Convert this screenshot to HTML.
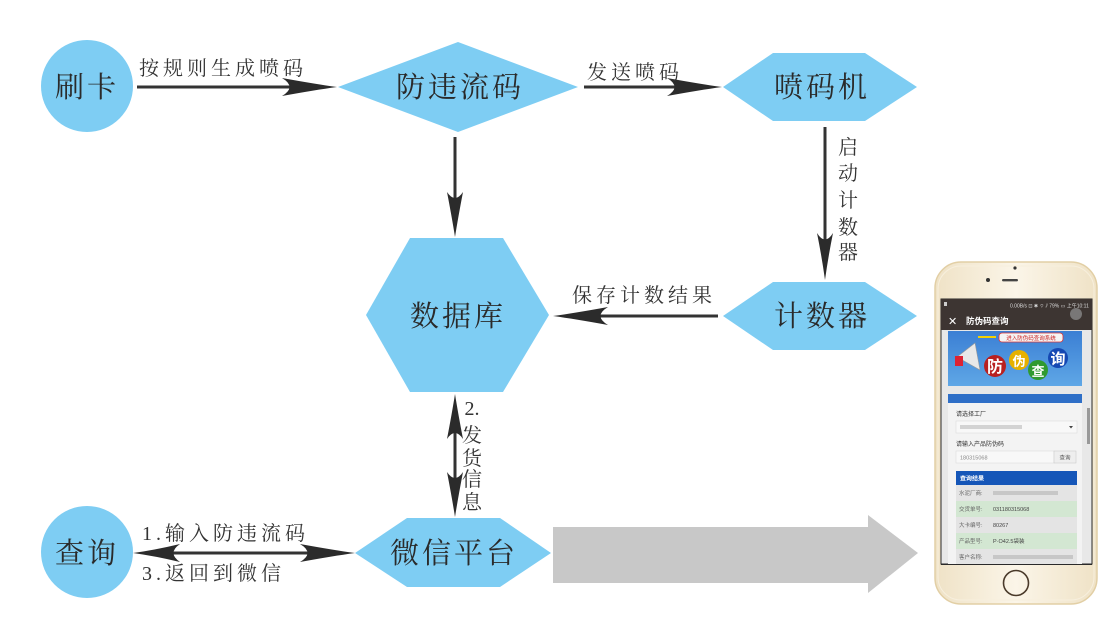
<!DOCTYPE html>
<html><head><meta charset="utf-8">
<style>
html,body{margin:0;padding:0;background:#fff;}
svg{display:block;}
.n{font-family:"Liberation Serif","Noto Serif CJK SC",serif;font-size:29px;fill:#2a2a2a;letter-spacing:3px;}
.l{font-family:"Liberation Serif","Noto Serif CJK SC",serif;font-size:20px;fill:#333;letter-spacing:4px;}
.v{font-family:"Liberation Serif","Noto Serif CJK SC",serif;font-size:20px;fill:#333;}
.p{font-family:"Liberation Sans","Noto Sans CJK SC",sans-serif;}
</style></head>
<body>
<svg width="1114" height="643" viewBox="0 0 1114 643" xmlns="http://www.w3.org/2000/svg">
<defs>
<linearGradient id="bn" x1="0" y1="0" x2="0" y2="1">
<stop offset="0" stop-color="#3b7fd4"/><stop offset="1" stop-color="#5fa7e6"/>
</linearGradient>
<linearGradient id="ph" x1="0" y1="0" x2="1" y2="0">
<stop offset="0" stop-color="#efe2c6"/><stop offset="0.5" stop-color="#fbf5e8"/><stop offset="1" stop-color="#efe2c6"/>
</linearGradient>
</defs>

<!-- Nodes -->
<circle cx="87" cy="86" r="46" fill="#7ecdf3"/>
<text class="n" x="87" y="97" text-anchor="middle">刷卡</text>

<polygon points="338,87 458,42 578,87 458,132" fill="#7ecdf3"/>
<text class="n" x="460" y="97" text-anchor="middle">防违流码</text>

<polygon points="723,87 773,53 865,53 917,87 865,121 773,121" fill="#7ecdf3"/>
<text class="n" x="822" y="97" text-anchor="middle">喷码机</text>

<polygon points="723,316 773,282 865,282 917,316 865,350 773,350" fill="#7ecdf3"/>
<text class="n" x="822" y="326" text-anchor="middle">计数器</text>

<polygon points="366,315 410,238 503,238 549,315 503,392 410,392" fill="#7ecdf3"/>
<text class="n" x="458" y="326" text-anchor="middle">数据库</text>

<circle cx="87" cy="552" r="46" fill="#7ecdf3"/>
<text class="n" x="87" y="563" text-anchor="middle">查询</text>

<polygon points="355,553 407,518 500,518 551,553 500,587 407,587" fill="#7ecdf3"/>
<text class="n" x="454" y="563" text-anchor="middle">微信平台</text>

<!-- Gray big arrow -->
<polygon points="553,527 868,527 868,515 918,553 868,593 868,583 553,583" fill="#c8c8c8"/>

<!-- Connectors -->
<g stroke="#333" stroke-width="3" fill="none">
<line x1="137" y1="87" x2="318" y2="87"/>
<line x1="584" y1="87" x2="705" y2="87"/>
<line x1="718" y1="316" x2="570" y2="316"/>
<line x1="150" y1="553" x2="340" y2="553"/>
<line x1="455" y1="137" x2="455" y2="222"/>
<line x1="825" y1="127" x2="825" y2="265"/>
<line x1="455" y1="410" x2="455" y2="502"/>
</g>
<g fill="#2b2b2b">
<!-- right heads -->
<path d="M337 87 Q315 84 282 78 Q297 87 282 96 Q315 90 337 87 Z"/>
<path d="M722 87 Q700 84 667 78 Q682 87 667 96 Q700 90 722 87 Z"/>
<path d="M355 553 Q333 550 300 544 Q315 553 300 562 Q333 556 355 553 Z"/>
<!-- left heads -->
<path d="M553 316 Q575 313 608 307 Q593 316 608 325 Q575 319 553 316 Z"/>
<path d="M133 553 Q155 550 180 544 Q167 553 180 562 Q155 556 133 553 Z"/>
<!-- down heads -->
<path d="M455 237 Q452 218 447 192 Q455 204 463 192 Q458 218 455 237 Z"/>
<path d="M825 280 Q822 258 817 233 Q825 246 833 233 Q828 258 825 280 Z"/>
<path d="M455 517 Q452 498 447 472 Q455 484 463 472 Q458 498 455 517 Z"/>
<!-- up head -->
<path d="M455 394 Q452 413 447 439 Q455 427 463 439 Q458 413 455 394 Z"/>
</g>

<!-- Edge labels -->
<text class="l" x="139" y="75">按规则生成喷码</text>
<text class="l" x="587" y="79">发送喷码</text>
<text class="l" x="572" y="302">保存计数结果</text>
<text class="l" x="142" y="540">1.输入防违流码</text>
<text class="l" x="142" y="580">3.返回到微信</text>
<g class="v" text-anchor="middle">
<text x="848" y="154">启</text>
<text x="848" y="180">动</text>
<text x="848" y="207">计</text>
<text x="848" y="234">数</text>
<text x="848" y="259">器</text>
<text x="472" y="415">2.</text>
<text x="472" y="442">发</text>
<text x="472" y="465">货</text>
<text x="472" y="486">信</text>
<text x="472" y="509">息</text>
</g>

<!-- Phone -->
<rect x="935" y="262" width="162" height="342" rx="26" fill="url(#ph)" stroke="#e2cfa5" stroke-width="1.5"/>
<rect x="938" y="266" width="156" height="334" rx="23" fill="none" stroke="#f7efdd" stroke-width="1"/>
<circle cx="1015" cy="268" r="1.6" fill="#333"/>
<circle cx="988" cy="280" r="2" fill="#333"/>
<rect x="1002" y="279" width="16" height="2.4" rx="1.2" fill="#444"/>
<rect x="941" y="299" width="151" height="265" fill="#e8e8e8" stroke="#2a2a2a" stroke-width="1"/>
<rect x="941" y="299" width="151" height="31" fill="#3d3532"/>
<text class="p" x="1010" y="307.5" font-size="5" fill="#ddd">0.00B/s ⊡ ✱ ⌔ ⫽ 79% ▭ 上午10:11</text>
<rect x="944" y="302" width="3" height="4" fill="#ccc"/>
<text class="p" x="948" y="325" font-size="11" fill="#fff">✕</text>
<text class="p" x="966" y="324" font-size="8.5" fill="#fff" font-weight="bold">防伪码查询</text>
<circle cx="1076" cy="314" r="6" fill="#888" opacity="0.8"/>
<!-- banner -->
<rect x="948" y="331" width="134" height="55" fill="url(#bn)"/>
<rect x="999" y="333" width="64" height="9" rx="3" fill="#f4f4f4" stroke="#d33" stroke-width="0.8"/>
<text class="p" x="1031" y="340" font-size="5.5" fill="#c22" text-anchor="middle">进入防伪码查询系统</text>
<rect x="978" y="336" width="18" height="2" fill="#f5d000"/>
<polygon points="957,357 975,343 980,370" fill="#e8e8e8" stroke="#999" stroke-width="0.6"/>
<rect x="955" y="356" width="8" height="10" fill="#d23"/>
<circle cx="995" cy="366" r="11" fill="#b82020"/>
<circle cx="1019" cy="360" r="10" fill="#e6b100"/>
<circle cx="1038" cy="370" r="10" fill="#2f9a30"/>
<circle cx="1058" cy="358" r="10" fill="#1548b3"/>
<text class="p" x="995" y="372" font-size="16" font-weight="bold" fill="#fff" text-anchor="middle">防</text>
<text class="p" x="1019" y="366" font-size="13" font-weight="bold" fill="#fff" text-anchor="middle">伪</text>
<text class="p" x="1038" y="376" font-size="13" font-weight="bold" fill="#fff" text-anchor="middle">查</text>
<text class="p" x="1058" y="364" font-size="15" font-weight="bold" fill="#fff" text-anchor="middle">询</text>
<!-- form card -->
<rect x="948" y="394" width="134" height="170" fill="#f3f3f3"/>
<rect x="948" y="394" width="134" height="9" fill="#2f6fc7"/>
<rect x="1087" y="408" width="3" height="36" fill="#999"/>
<text class="p" x="956" y="416" font-size="6" fill="#333">请选择工厂</text>
<rect x="956" y="421" width="121" height="12" fill="#f8f8f8" stroke="#ddd" stroke-width="0.6"/>
<rect x="960" y="425" width="62" height="4" fill="#bbb" opacity="0.6"/>
<polygon points="1069,426 1073,426 1071,428.5" fill="#444"/>
<text class="p" x="956" y="446" font-size="6" fill="#333">请输入产品防伪码</text>
<rect x="956" y="451" width="98" height="12" fill="#f8f8f8" stroke="#ddd" stroke-width="0.6"/>
<text class="p" x="960" y="459.5" font-size="5.5" fill="#888">180315068</text>
<rect x="1054" y="451" width="22" height="12" fill="#eee" stroke="#ccc" stroke-width="0.6"/>
<text class="p" x="1065" y="459.5" font-size="5.5" fill="#555" text-anchor="middle">查询</text>
<rect x="956" y="471" width="121" height="14" fill="#1556b8"/>
<text class="p" x="960" y="480.5" font-size="6" fill="#fff" font-weight="bold">查询结果</text>
<rect x="956" y="485" width="121" height="16" fill="#e4e4e4"/>
<rect x="956" y="501" width="121" height="16" fill="#d3e7d2"/>
<rect x="956" y="517" width="121" height="16" fill="#e4e4e4"/>
<rect x="956" y="533" width="121" height="16" fill="#d3e7d2"/>
<rect x="956" y="549" width="121" height="15" fill="#e4e4e4"/>
<g class="p" font-size="5.5" fill="#666">
<text x="959" y="495">水泥厂商:</text>
<text x="959" y="511">交货单号:</text>
<text x="959" y="527">大卡编号:</text>
<text x="959" y="543">产品型号:</text>
<text x="959" y="559">客户名称:</text>
<text x="993" y="511" fill="#444">031180315068</text>
<text x="993" y="527" fill="#444">80267</text>
<text x="993" y="543" fill="#444">P·O42.5袋装</text>
</g>
<rect x="993" y="491" width="65" height="4" fill="#bbb" opacity="0.7"/>
<rect x="993" y="555" width="80" height="4" fill="#bbb" opacity="0.7"/>
<rect x="941" y="564" width="151" height="1" fill="#2a2a2a"/>
<circle cx="1016" cy="583" r="12.5" fill="none" stroke="#4a3a2a" stroke-width="1.6"/>
</svg>
</body></html>
